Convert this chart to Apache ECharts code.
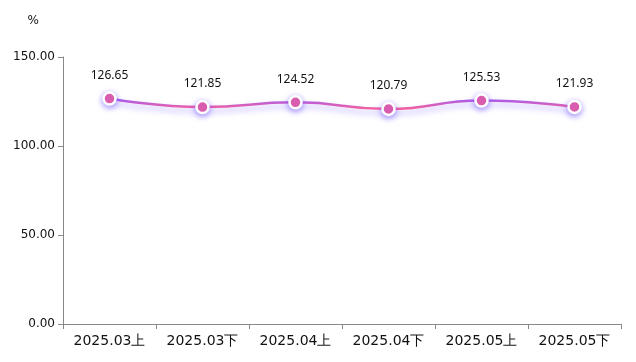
<!DOCTYPE html>
<html><head><meta charset="utf-8">
<script src="https://cdn.jsdelivr.net/npm/echarts@6/dist/echarts.min.js"></script>
<style>html,body{margin:0;padding:0;background:#fff}#c{width:636px;height:362px}</style>
</head><body><div id="c"></div>
<script>
const categories = ['2025.03上','2025.03下','2025.04上','2025.04下','2025.05上','2025.05下'];
const values = [126.65, 121.85, 124.52, 120.79, 125.53, 121.93];
const yUnit = '%';

const chart = echarts.init(document.getElementById('c'));
chart.setOption({
  animation: false,
  grid: {left: 63, right: 15, top: 57, bottom: 38},
  xAxis: {
    type: 'category', data: categories,
    axisLine: {lineStyle: {color: '#888'}},
    axisTick: {show: true, lineStyle: {color: '#888'}},
    axisLabel: {color: '#111', fontSize: 14, fontFamily: 'DejaVu Sans', margin: 10, interval: 0}
  },
  yAxis: {
    type: 'value', min: 0, max: 150, interval: 50,
    name: yUnit, nameGap: 30,
    nameTextStyle: {color: '#111', fontSize: 12, fontFamily: 'DejaVu Sans', align: 'right', padding: [0, 24, 0, 0]},
    axisLine: {show: true, lineStyle: {color: '#888'}},
    axisTick: {show: true, lineStyle: {color: '#888'}},
    splitLine: {show: false},
    axisLabel: {color: '#111', fontSize: 12, fontFamily: 'DejaVu Sans', formatter: v => v.toFixed(2)}
  },
  series: [{
    type: 'line', data: values, smooth: true,
    symbol: 'circle', symbolSize: 12,
    lineStyle: {
      width: 2.5,
      color: new echarts.graphic.LinearGradient(0, 98, 0, 109, [
        {offset: 0, color: '#9a5cf8'}, {offset: 0.45, color: '#c45ed0'}, {offset: 1, color: '#f8609a'}
      ], true),
      shadowColor: 'rgba(110,80,255,0.45)', shadowBlur: 6, shadowOffsetY: 4
    },
    itemStyle: {
      color: '#f2609c',
      borderColor: '#fff', borderWidth: 2.5,
      shadowColor: 'rgba(110,80,255,0.6)', shadowBlur: 6, shadowOffsetY: 2
    },
    label: {show: true, position: 'top', distance: 10, color: '#111', fontSize: 12, fontFamily: 'Noto Sans', formatter: p => p.value.toFixed(2)}
  }]
});
</script></body></html>
